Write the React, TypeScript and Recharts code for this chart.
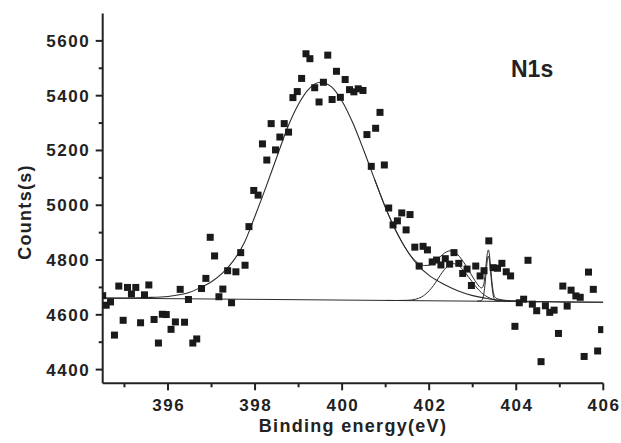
import React from 'react';
import { ComposedChart, XAxis, YAxis, Scatter, Line } from 'recharts';

// ---- measured spectrum (Binding energy, eV / Counts) ----
const energyEV = [
  394.50, 394.58, 394.68, 394.77, 394.87, 394.97, 395.07, 395.16, 395.26, 395.37,
  395.46, 395.56, 395.68, 395.78, 395.87, 395.96, 396.07, 396.17, 396.28, 396.38,
  396.47, 396.57, 396.66, 396.77, 396.87, 396.97, 397.07, 397.17, 397.26, 397.37,
  397.46, 397.56, 397.67, 397.77, 397.86, 397.97, 398.07, 398.17, 398.27, 398.37,
  398.47, 398.57, 398.67, 398.77, 398.87, 398.97, 399.07, 399.17, 399.26, 399.37,
  399.47, 399.57, 399.67, 399.77, 399.87, 399.96, 400.07, 400.17, 400.27, 400.37,
  400.48, 400.57, 400.67, 400.77, 400.87, 400.97, 401.07, 401.17, 401.27, 401.37,
  401.47, 401.56, 401.67, 401.77, 401.86, 401.96, 402.07, 402.17, 402.27, 402.37,
  402.47, 402.57, 402.68, 402.77, 402.87, 402.97, 403.07, 403.17, 403.26, 403.37,
  403.47, 403.57, 403.67, 403.77, 403.87, 403.97, 404.07, 404.17, 404.27, 404.37,
  404.47, 404.57, 404.67, 404.77, 404.87, 404.97, 405.07, 405.17, 405.26, 405.37,
  405.47, 405.56, 405.66, 405.77, 405.87, 405.96,
];
const counts = [
  4670, 4635, 4647, 4526, 4705, 4580, 4700, 4676, 4700, 4571,
  4673, 4709, 4583, 4497, 4602, 4601, 4547, 4574, 4693, 4573,
  4656, 4497, 4512, 4696, 4733, 4883, 4815, 4666, 4694, 4761,
  4644, 4757, 4827, 4781, 4922, 5054, 5037, 5224, 5165, 5298,
  5202, 5249, 5298, 5267, 5393, 5415, 5463, 5553, 5535, 5429,
  5377, 5449, 5548, 5386, 5489, 5394, 5459, 5422, 5414, 5425,
  5419, 5258, 5142, 5281, 5339, 5147, 4990, 4928, 4943, 4972,
  4910, 4966, 4847, 4778, 4850, 4837, 4793, 4800, 4782, 4805,
  4785, 4827, 4788, 4751, 4767, 4707, 4778, 4742, 4761, 4870,
  4772, 4770, 4788, 4757, 4742, 4558, 4644, 4657, 4799, 4639,
  4615, 4429, 4633, 4609, 4617, 4532, 4705, 4632, 4690, 4669,
  4664, 4448, 4756, 4693, 4468, 4546,
];

// ---- fitted curves ----
const mainFitX = [394.5, 395, 395.5, 396, 396.5, 396.75, 397, 397.25, 397.5, 397.75, 398, 398.25, 398.5, 398.75, 399, 399.25, 399.5, 399.75, 400, 400.25, 400.5, 400.75, 401, 401.25, 401.5, 401.75, 402, 402.25, 402.5, 402.75, 403, 403.25, 403.5, 403.75, 404, 404.5, 405, 406];
const mainFitY = [4661, 4661, 4663, 4667, 4682, 4700, 4721, 4752, 4797, 4862, 4961, 5066, 5176, 5285, 5370, 5427, 5449, 5433, 5380, 5299, 5199, 5093, 4990, 4902, 4832, 4780, 4744, 4719, 4699, 4682, 4670, 4662, 4655, 4652, 4650, 4648, 4647, 4646];

const envelopeX = [400.75, 401, 401.25, 401.5, 401.75, 401.9, 402, 402.1, 402.2, 402.3, 402.4, 402.5, 402.6, 402.7, 402.8, 402.9, 403, 403.1, 403.2, 403.25, 403.28, 403.3, 403.32, 403.34, 403.36, 403.38, 403.4, 403.42, 403.44, 403.47, 403.52, 403.6, 403.75, 404, 404.5];
const envelopeY = [5093, 4990, 4902, 4833, 4788, 4780, 4781, 4791, 4804, 4819, 4830, 4834, 4828, 4812, 4790, 4765, 4738, 4714, 4698, 4709, 4740, 4770, 4804, 4828, 4837, 4824, 4795, 4758, 4723, 4686, 4663, 4657, 4653, 4650, 4648];

const peak2X = [401, 401.25, 401.5, 401.75, 401.9, 402, 402.1, 402.2, 402.3, 402.4, 402.5, 402.55, 402.6, 402.7, 402.8, 402.9, 403, 403.1, 403.2, 403.3, 403.4, 403.5, 403.6, 403.75, 404];
const peak2Y = [4652.6, 4652.3, 4653, 4660, 4673, 4688, 4707, 4731, 4755, 4774, 4786, 4787, 4785.5, 4777, 4760, 4739, 4718, 4697.5, 4681, 4669, 4660.5, 4655, 4652.5, 4650, 4649];

const peak3X = [403.1, 403.2, 403.25, 403.28, 403.3, 403.32, 403.34, 403.36, 403.38, 403.4, 403.42, 403.44, 403.47, 403.52, 403.6];
const peak3Y = [4649.7, 4652, 4672, 4707, 4740, 4776, 4803, 4814, 4803, 4776, 4740, 4707, 4672, 4652, 4649.5];

const baselineX = [394.5, 406];
const baselineY = [4661, 4646];

// ---- axes ----
const xTicks = [395, 396, 397, 398, 399, 400, 401, 402, 403, 404, 405, 406];
const yTicks = [4400, 4500, 4600, 4700, 4800, 4900, 5000, 5100, 5200, 5300, 5400, 5500, 5600];
const xDomain = [394.5, 406];
const yDomain = [4350, 5700];

const zip = (xs: number[], ys: number[]) => xs.map((x, i) => ({ x, y: ys[i] }));

const spectrum = zip(energyEV, counts);
const mainFit = zip(mainFitX, mainFitY);
const envelope = zip(envelopeX, envelopeY);
const peak2 = zip(peak2X, peak2Y);
const peak3 = zip(peak3X, peak3Y);
const baseline = zip(baselineX, baselineY);

const FONT = '"Liberation Sans", Arial, Helvetica, sans-serif';
const INK = '#222';
const CURVE = '#2b2b2b';

const YTick = (props: any) => {
  const { x, y, payload } = props;
  const v = payload.value;
  const major = v % 200 === 0;
  return (
    <g>
      <line x1={x - (major ? 7 : 4)} y1={y} x2={x} y2={y} stroke={INK} strokeWidth={2} />
      {major && (
        <text x={x - 12.5} y={y + 6} textAnchor="end" fontFamily={FONT} fontWeight="bold" fontSize={17} letterSpacing={1.5} fill={INK}>
          {v}
        </text>
      )}
    </g>
  );
};

const XTick = (props: any) => {
  const { x, y, payload } = props;
  const v = payload.value;
  const major = v % 2 === 0;
  return (
    <g>
      <line x1={x} y1={y} x2={x} y2={y + (major ? 7 : 4)} stroke={INK} strokeWidth={2} />
      {major && (
        <text x={x + 0.75} y={y + 28} textAnchor="middle" fontFamily={FONT} fontWeight="bold" fontSize={17} letterSpacing={1.5} fill={INK}>
          {v}
        </text>
      )}
    </g>
  );
};

const Square = (props: any) => {
  const { cx, cy } = props;
  if (cx == null || cy == null) return null;
  return <rect x={cx - 3.5} y={cy - 3.5} width={7} height={7} fill="#1a1a1a" />;
};

export default function App() {
  return (
    <div style={{ position: 'absolute', left: 0, top: 0, width: 621, height: 443, background: '#fff' }}>
      <ComposedChart width={621} height={443} margin={{ top: 13.5, right: 17.7, left: 0, bottom: 29.7 }}>
        <XAxis
          dataKey="x"
          type="number"
          domain={xDomain}
          ticks={xTicks}
          interval={0}
          allowDataOverflow
          height={30}
          tickSize={0}
          tickMargin={0}
          tickLine={false}
          axisLine={{ stroke: INK, strokeWidth: 2 }}
          tick={<XTick />}
        />
        <XAxis
          xAxisId="top"
          orientation="top"
          type="number"
          domain={xDomain}
          allowDataOverflow
          height={0}
          tick={false}
          tickLine={false}
          axisLine={{ stroke: INK, strokeWidth: 2 }}
        />
        <YAxis
          dataKey="y"
          type="number"
          domain={yDomain}
          ticks={yTicks}
          interval={0}
          allowDataOverflow
          width={102.7}
          tickSize={0}
          tickMargin={0}
          tickLine={false}
          axisLine={{ stroke: INK, strokeWidth: 2 }}
          tick={<YTick />}
        />
        <YAxis
          yAxisId="right"
          orientation="right"
          type="number"
          domain={yDomain}
          allowDataOverflow
          width={0}
          tick={false}
          tickLine={false}
          axisLine={{ stroke: INK, strokeWidth: 2 }}
        />
        <Line data={baseline} dataKey="y" type="linear" dot={false} stroke={CURVE} strokeWidth={1} isAnimationActive={false} />
        <Line data={peak3} dataKey="y" type="monotone" dot={false} stroke={CURVE} strokeWidth={1} isAnimationActive={false} />
        <Line data={peak2} dataKey="y" type="monotone" dot={false} stroke={CURVE} strokeWidth={1} isAnimationActive={false} />
        <Line data={envelope} dataKey="y" type="monotone" dot={false} stroke={CURVE} strokeWidth={1} isAnimationActive={false} />
        <Line data={mainFit} dataKey="y" type="monotone" dot={false} stroke={CURVE} strokeWidth={1.1} isAnimationActive={false} />
        <Scatter data={spectrum} dataKey="y" shape={<Square />} isAnimationActive={false} />
      </ComposedChart>
      <svg width={621} height={443} style={{ position: 'absolute', left: 0, top: 0, pointerEvents: 'none' }}>
        <text x={511} y={77} fontFamily={FONT} fontWeight="bold" fontSize={23} fill={INK}>N1s</text>
        <text x={353} y={432} textAnchor="middle" fontFamily={FONT} fontWeight="bold" fontSize={18} letterSpacing={1.3} fill={INK}>
          Binding energy(eV)
        </text>
        <text x={30.5} y={212} transform="rotate(-90 30.5 212)" textAnchor="middle" fontFamily={FONT} fontWeight="bold" fontSize={18} letterSpacing={1.3} fill={INK}>
          Counts(s)
        </text>
      </svg>
    </div>
  );
}
